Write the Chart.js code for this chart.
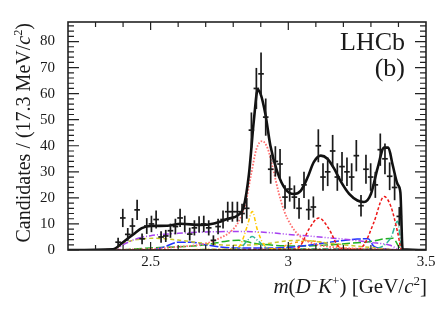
<!DOCTYPE html>
<html>
<head>
<meta charset="utf-8">
<script src="https://cdn.jsdelivr.net/npm/chart.js@4.4.1/dist/chart.umd.min.js"></script>
<style>
  html, body { margin: 0; padding: 0; background: #fff; }
  #wrap { width: 446px; height: 309px; }
</style>
</head>
<body>
<div id="wrap"><canvas id="chart"></canvas></div>
<script>
// data: bin centres (GeV/c^2) and candidates per 17.3 MeV/c^2 bin
const binMass = [2.382, 2.399, 2.417, 2.434, 2.451, 2.469, 2.486, 2.503, 2.520, 2.538,
  2.555, 2.572, 2.590, 2.607, 2.624, 2.642, 2.659, 2.676, 2.693, 2.711,
  2.728, 2.745, 2.763, 2.780, 2.797, 2.815, 2.832, 2.849, 2.866, 2.884,
  2.901, 2.918, 2.936, 2.953, 2.970, 2.988, 3.005, 3.022, 3.039, 3.057,
  3.074, 3.091, 3.109, 3.126, 3.143, 3.161, 3.178, 3.195, 3.213, 3.230,
  3.247, 3.264, 3.282, 3.299, 3.316, 3.334, 3.351, 3.368, 3.386, 3.403];
const counts = [3, 12.3, 6, 9.2, 15.4, 4.3, 9.2, 10, 11.7, 5,
  5.4, 7.4, 9, 12.3, 10, 6.1, 8.5, 9.8, 10, 8.5,
  3.7, 9, 11.7, 14.7, 14.7, 14.7, 14, 16, 46, 62,
  67.6, 51, 31, 34, 33, 20.3, 23.4, 20.3, 16, 25,
  15.5, 16.5, 40, 28, 30, 38, 28, 32, 30, 28,
  36.2, 17, 31, 28, 25, 38.5, 35, 28.3, 24, 12.9];

// total fit
const fitMass = [2.20, 2.363, 2.40, 2.438, 2.468, 2.50, 2.56, 2.61, 2.68, 2.73, 2.778, 2.82, 2.838, 2.857,
  2.875, 2.889, 2.899, 2.917, 2.935, 2.96, 2.99, 3.02, 3.045, 3.069, 3.093, 3.118, 3.142,
  3.166, 3.19, 3.221, 3.251, 3.275, 3.30, 3.324, 3.348, 3.363, 3.379, 3.397, 3.407, 3.415, 3.50];
const fitVal = [0, 0.3, 3, 6.1, 8.4, 9.2, 9.3, 10.1, 9.6, 10.2, 11.9, 13.6, 16.6, 29,
  49.8, 61.5, 60, 52, 40, 30, 23.3, 21.5, 22.7, 27.6, 33.8, 36.2, 35,
  31.3, 26.4, 21.5, 19, 18.4, 21.5, 31.3, 39.3, 39.3, 32.6, 25.2, 22, 0.3, 0];

// fit components
const pinkMass = [2.20, 2.50, 2.60, 2.70, 2.75, 2.79, 2.82, 2.845, 2.865, 2.885, 2.905, 2.925, 2.945, 2.965, 2.985, 3.01, 3.045, 3.10, 3.20, 3.35, 3.41, 3.50];
const pinkVal = [0, 0.4, 1.2, 2.5, 4.5, 7, 11, 18, 29, 39, 41.8, 39, 31, 22, 15, 9.5, 5, 2.2, 0.8, 0.3, 0, 0];
const red1Mass = [2.20, 3.02, 3.045, 3.075, 3.111, 3.148, 3.179, 3.21, 3.50];
const red1Val = [0, 0.3, 1.8, 8, 12.3, 8, 1.8, 0.3, 0];
const red2Mass = [2.20, 3.25, 3.275, 3.31, 3.348, 3.373, 3.397, 3.412, 3.50];
const red2Val = [0, 0.3, 2, 10.4, 20.5, 16.6, 6.8, 0, 0];
const yellowMass = [2.20, 2.80, 2.826, 2.851, 2.869, 2.887, 2.911, 2.94, 3.50];
const yellowVal = [0, 0.3, 2, 9.2, 14.8, 8, 2, 0.5, 0];
const tealMass = [2.20, 2.82, 2.85, 2.869, 2.89, 2.93, 3.30, 3.348, 3.373, 3.397, 3.413, 3.50];
const tealVal = [0, 0.3, 3.5, 5.2, 3.5, 0.5, 0.5, 1.8, 4.9, 11, 0, 0];
const purpleMass = [2.20, 2.364, 2.40, 2.44, 2.50, 2.60, 2.70, 2.80, 2.90, 3.00, 3.10, 3.20, 3.30, 3.37, 3.41, 3.50];
const purpleVal = [0, 0, 2, 4, 5.5, 6.4, 6.9, 7.1, 6.9, 6.0, 5.1, 4.2, 2.9, 1.8, 0, 0];
const oliveMass = [2.20, 2.364, 2.40, 2.45, 2.52, 2.60, 2.70, 2.80, 2.90, 3.00, 3.05, 3.12, 3.20, 3.30, 3.41, 3.50];
const oliveVal = [0, 0, 2.5, 4, 4.5, 3.8, 2.5, 1.8, 2.2, 3.5, 3.7, 3, 2, 1, 0, 0];
const blueMass = [2.20, 2.50, 2.55, 2.60, 2.65, 2.70, 2.80, 2.95, 3.05, 3.15, 3.25, 3.29, 3.31, 3.35, 3.41, 3.50];
const blueVal = [0, 0, 1.2, 3, 3, 2, 0.8, 0.8, 1.5, 3, 4.2, 4.3, 1.5, 0.5, 0, 0];
const greenMass = [2.20, 2.364, 2.50, 2.70, 2.78, 2.82, 2.88, 2.95, 3.05, 3.15, 3.25, 3.30, 3.35, 3.38, 3.40, 3.41, 3.50];
const greenVal = [0, 0, 0.8, 2, 3.5, 3.7, 2.5, 1.8, 1.5, 2, 2.8, 3.3, 4.3, 4.5, 1.5, 0, 0];
const orangeMass = [2.20, 2.95, 3.02, 3.08, 3.15, 3.22, 3.50];
const orangeVal = [0, 0.5, 2.8, 3.5, 2.2, 0.5, 0];

const yTicks = [0, 10, 20, 30, 40, 50, 60, 70, 80];
const xTicks = [2.5, 3, 3.5];

const FONT = '"Liberation Serif", "Times New Roman", serif';
const INK = '#1a1a1a';

function pts(xs, ys) {
  return xs.map((x, i) => ({ x: x, y: ys[i] }));
}

function comp(label, xs, ys, color, dash, width) {
  return {
    label: label,
    data: pts(xs, ys),
    borderColor: color,
    borderWidth: width || 1.5,
    borderDash: dash,
    pointRadius: 0,
    showLine: true,
    tension: 0.4,
    cubicInterpolationMode: 'monotone',
    order: 3
  };
}

// draw mixed italic / superscript text, left aligned at x, baseline y
function runsWidth(ctx, runs, size) {
  let w = 0;
  runs.forEach(r => {
    const s = r.sup ? size * 0.62 : size;
    ctx.font = (r.it ? 'italic ' : '') + s + 'px ' + FONT;
    w += ctx.measureText(r.t).width;
  });
  return w;
}
function drawRuns(ctx, runs, x, y, size) {
  let cx = x;
  runs.forEach(r => {
    const s = r.sup ? size * 0.62 : size;
    ctx.font = (r.it ? 'italic ' : '') + s + 'px ' + FONT;
    ctx.fillText(r.t, cx, r.sup ? y - size * 0.38 : y);
    cx += ctx.measureText(r.t).width;
  });
}

const xTitle = [{ t: 'm', it: true }, { t: '(' }, { t: 'D', it: true }, { t: '\u2212', sup: true },
  { t: 'K', it: true }, { t: '+', sup: true }, { t: ') [GeV/' }, { t: 'c', it: true },
  { t: '2', sup: true }, { t: ']' }];
const yTitle = [{ t: 'Candidates / (17.3 MeV/' }, { t: 'c', it: true }, { t: '2', sup: true }, { t: ')' }];

const errorBars = {
  id: 'errorBars',
  afterDatasetsDraw(chart) {
    const ctx = chart.ctx;
    const xs = chart.scales.x, ys = chart.scales.y;
    ctx.save();
    ctx.strokeStyle = INK;
    ctx.lineWidth = 1.7;
    binMass.forEach((m, i) => {
      const n = counts[i];
      const err = Math.sqrt(n);
      const px = xs.getPixelForValue(m);
      ctx.beginPath();
      ctx.moveTo(px, ys.getPixelForValue(n - err));
      ctx.lineTo(px, ys.getPixelForValue(n + err));
      ctx.stroke();
    });
    ctx.restore();
  }
};

const frame = {
  id: 'frame',
  afterDraw(chart) {
    const ctx = chart.ctx;
    const a = chart.chartArea;
    const xs = chart.scales.x, ys = chart.scales.y;
    ctx.save();
    ctx.strokeStyle = '#222';
    ctx.lineWidth = 1.6;
    ctx.strokeRect(a.left, a.top, a.right - a.left, a.bottom - a.top);

    ctx.lineWidth = 1.2;
    ctx.beginPath();
    for (let v = 0; v <= 86; v += 2) {
      const py = ys.getPixelForValue(v);
      const len = v % 10 === 0 ? 11 : 6;
      ctx.moveTo(a.left, py); ctx.lineTo(a.left + len, py);
      ctx.moveTo(a.right, py); ctx.lineTo(a.right - len, py);
    }
    for (let k = 23; k <= 34; k++) {
      const v = k / 10;
      const px = xs.getPixelForValue(v);
      const len = k % 5 === 0 ? 8 : 5;
      ctx.moveTo(px, a.top); ctx.lineTo(px, a.top + len);
      ctx.moveTo(px, a.bottom); ctx.lineTo(px, a.bottom - len);
    }
    ctx.stroke();

    ctx.fillStyle = INK;
    ctx.textBaseline = 'alphabetic';
    ctx.textAlign = 'left';
    // x title, right aligned to frame
    const xs1 = 21;
    const xw = runsWidth(ctx, xTitle, xs1);
    drawRuns(ctx, xTitle, a.right + 1 - xw, 293, xs1);
    // y title, rotated, aligned to frame top
    const ys1 = 20;
    const yw = runsWidth(ctx, yTitle, ys1);
    ctx.save();
    ctx.translate(30, a.top + 1);
    ctx.rotate(-Math.PI / 2);
    drawRuns(ctx, yTitle, -yw, 0, ys1);
    ctx.restore();

    // experiment label
    ctx.textAlign = 'right';
    ctx.font = '26px ' + FONT;
    ctx.fillText('LHCb', 405, 50);
    ctx.fillText('(b)', 405, 76);
    ctx.restore();
  }
};

new Chart(document.getElementById('chart'), {
  type: 'scatter',
  data: {
    datasets: [
      {
        label: 'Data',
        data: pts(binMass, counts),
        pointStyle: 'line',
        pointRadius: 2.8,
        pointBorderWidth: 1.7,
        pointBorderColor: INK,
        showLine: false,
        order: 1
      },
      {
        label: 'Fit',
        data: pts(fitMass, fitVal),
        borderColor: '#111',
        borderWidth: 2.6,
        pointRadius: 0,
        showLine: true,
        tension: 0.4,
        cubicInterpolationMode: 'monotone',
        order: 2
      },
      comp('pink', pinkMass, pinkVal, '#ff6f6f', [1.6, 1.6], 1.8),
      comp('red1', red1Mass, red1Val, '#ee1818', [3, 2]),
      comp('red2', red2Mass, red2Val, '#ee1818', [3, 2]),
      comp('yellow', yellowMass, yellowVal, '#ffc800', [4, 2, 1, 2]),
      comp('teal', tealMass, tealVal, '#2fb596', [6, 2, 1, 2]),
      comp('purple', purpleMass, purpleVal, '#a640f0', [6, 2, 1, 2, 1, 2]),
      comp('olive', oliveMass, oliveVal, '#c8c82a', [4, 3]),
      comp('blue', blueMass, blueVal, '#2233ff', [9, 2]),
      comp('green', greenMass, greenVal, '#22b022', [8, 3]),
      comp('orange', orangeMass, orangeVal, '#ff9a10', [3, 3])
    ]
  },
  options: {
    responsive: true,
    maintainAspectRatio: false,
    animation: false,
    devicePixelRatio: 1,
    layout: { padding: { top: 13, right: 20, left: 0, bottom: 0 } },
    plugins: {
      legend: { display: false },
      tooltip: { enabled: false }
    },
    scales: {
      x: {
        type: 'linear',
        min: 2.2,
        max: 3.5,
        afterFit: s => { s.height = 59; },
        afterBuildTicks: s => { s.ticks = xTicks.map(v => ({ value: v })); },
        grid: { display: false, drawTicks: false },
        border: { display: false },
        ticks: {
          color: INK,
          padding: 3,
          maxRotation: 0,
          font: { family: FONT, size: 15 },
          callback: v => String(v)
        }
      },
      y: {
        type: 'linear',
        min: 0,
        max: 87.5,
        afterFit: s => { s.width = 68; },
        afterBuildTicks: s => { s.ticks = yTicks.map(v => ({ value: v })); },
        grid: { display: false, drawTicks: false },
        border: { display: false },
        ticks: {
          color: INK,
          padding: 13,
          font: { family: FONT, size: 15 },
          callback: v => String(v)
        }
      }
    }
  },
  plugins: [errorBars, frame]
});
</script>
</body>
</html>
